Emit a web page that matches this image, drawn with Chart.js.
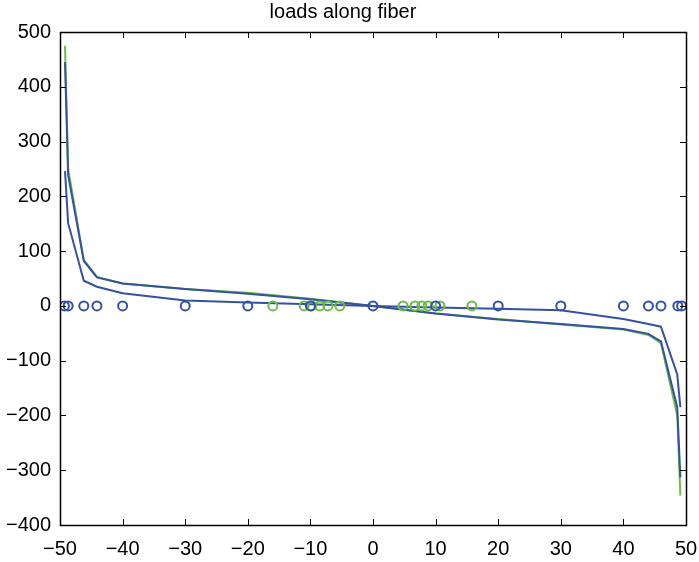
<!DOCTYPE html>
<html>
<head>
<meta charset="utf-8">
<script src="https://cdn.jsdelivr.net/npm/chart.js@4/dist/chart.umd.min.js"></script>
<style>
  html, body { margin: 0; padding: 0; background: #fff; }
  #wrap { width: 699px; height: 562px; }
</style>
</head>
<body>
<div id="wrap"><canvas id="myChart" width="699" height="562"></canvas></div>
<script>
// node positions along the fiber (blue circles / line vertices)
let nodeX = [-49.2, -48.7, -46.2, -44.1, -40, -30, -20, -10, 0, 10, 20, 30, 40, 44, 46, 48.6, 49.1];
let upperBlue = [445, 239, 82, 52, 41, 31, 22, 12, 0, -14, -25, -33, -42, -51, -65, -185, -313];
let lowerBlue = [246, 151, 46, 35, 23, 10, 6, 3, 0, -3, -5, -8, -24, -33, -38, -125, -185];
let greenLoad = [475, 250, 84, 53, 41, 31, 24, 13, 0, -14, -24, -34, -43, -53, -68, -200, -346];

let blueCircleX = [-49.3, -48.7, -46.2, -44.1, -40, -30, -20, -10, 0, 10, 20, 30, 40, 44, 46, 48.7, 49.3];
let greenCircleX = [-16, -11, -9.8, -8.5, -7.2, -5.3, 4.8, 6.7, 7.8, 8.8, 10.7, 15.8];

let xTicks = [-50, -40, -30, -20, -10, 0, 10, 20, 30, 40, 50];
let yTicks = [-400, -300, -200, -100, 0, 100, 200, 300, 400, 500];

const BLUE = "#3551a2";
const GREEN = "#6cbd47";
const FONT = "Liberation Sans";

function pts(xs, ys) {
  return xs.map((x, i) => ({ x: x, y: ys ? ys[i] : 0 }));
}

function minus(v) {
  return String(v).replace("-", "\u2212");
}

// matlab style box with inward ticks
const boxTicks = {
  id: "boxTicks",
  afterDraw(chart) {
    const c = chart.ctx;
    const a = chart.chartArea;
    const xs = chart.scales.x;
    const ys = chart.scales.y;
    const len = 6;
    c.save();
    c.strokeStyle = "#000";
    c.lineWidth = 1;
    c.beginPath();
    xTicks.forEach((t) => {
      const px = Math.round(xs.getPixelForValue(t)) + 0.5;
      c.moveTo(px, a.bottom);
      c.lineTo(px, a.bottom - len);
      c.moveTo(px, a.top);
      c.lineTo(px, a.top + len);
    });
    yTicks.forEach((t) => {
      const py = Math.round(ys.getPixelForValue(t)) + 0.5;
      c.moveTo(a.left, py);
      c.lineTo(a.left + len, py);
      c.moveTo(a.right, py);
      c.lineTo(a.right - len, py);
    });
    c.stroke();
    c.lineWidth = 1.5;
    c.strokeRect(Math.round(a.left) + 0.5, Math.round(a.top) + 0.5,
      Math.round(a.right - a.left), Math.round(a.bottom - a.top));
    c.restore();
  },
};

var ctx = document.getElementById("myChart");
var chart = new Chart(ctx, {
  type: "scatter",
  data: {
    datasets: [
      {
        label: "green load",
        data: pts(nodeX, greenLoad),
        showLine: true,
        borderColor: GREEN,
        borderWidth: 2,
        pointRadius: 0,
        order: 5,
      },
      {
        label: "upper",
        data: pts(nodeX, upperBlue),
        showLine: true,
        borderColor: BLUE,
        borderWidth: 2,
        pointRadius: 0,
        order: 4,
      },
      {
        label: "lower",
        data: pts(nodeX, lowerBlue),
        showLine: true,
        borderColor: BLUE,
        borderWidth: 2,
        pointRadius: 0,
        order: 3,
      },
      {
        label: "green nodes",
        data: pts(greenCircleX),
        showLine: false,
        pointStyle: "circle",
        pointRadius: 4.5,
        borderColor: GREEN,
        borderWidth: 2,
        backgroundColor: "rgba(0,0,0,0)",
        order: 2,
      },
      {
        label: "blue nodes",
        data: pts(blueCircleX),
        showLine: false,
        pointStyle: "circle",
        pointRadius: 4.5,
        borderColor: BLUE,
        borderWidth: 2,
        backgroundColor: "rgba(0,0,0,0)",
        order: 1,
      },
    ],
  },
  options: {
    responsive: false,
    animation: false,
    layout: {
      padding: { left: 0, right: 13, top: 0, bottom: 0 },
    },
    plugins: {
      legend: { display: false },
      tooltip: { enabled: false },
      title: {
        display: true,
        text: "loads along fiber",
        color: "#000",
        font: { family: FONT, size: 20, weight: "normal" },
        padding: { top: 0, bottom: 8 },
      },
    },
    scales: {
      x: {
        type: "linear",
        min: -50,
        max: 50,
        afterBuildTicks: (s) => { s.ticks = xTicks.map((v) => ({ value: v })); },
        afterFit: (s) => {
          s.height = 37;
          s.paddingLeft = 0;
          s.paddingRight = 0;
        },
        grid: { display: false, drawTicks: false },
        border: { display: false },
        ticks: {
          color: "#000",
          padding: 12,
          maxRotation: 0,
          font: { family: FONT, size: 20 },
          callback: (v) => minus(v),
        },
      },
      y: {
        type: "linear",
        min: -400,
        max: 500,
        afterBuildTicks: (s) => { s.ticks = yTicks.map((v) => ({ value: v })); },
        afterFit: (s) => {
          s.width = 60;
          s.paddingTop = 0;
          s.paddingBottom = 0;
        },
        grid: { display: false, drawTicks: false },
        border: { display: false },
        ticks: {
          color: "#000",
          padding: 9,
          font: { family: FONT, size: 20 },
          callback: (v) => minus(v),
        },
      },
    },
  },
  plugins: [boxTicks],
});
</script>
</body>
</html>
